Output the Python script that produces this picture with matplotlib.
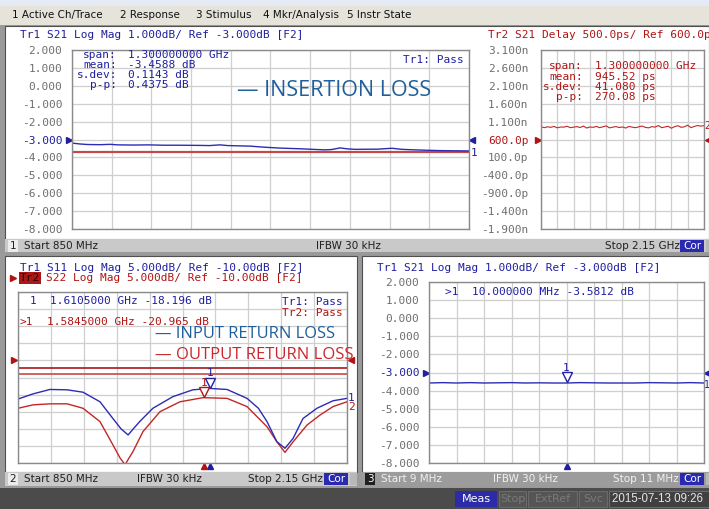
import numpy as np
import matplotlib.pyplot as plt
from matplotlib.patches import Rectangle
from matplotlib import transforms

W, H = 709, 509

# ---------------- data ----------------
# channel 1 / Tr1 : S21 insertion loss, 850 MHz .. 2.15 GHz (dB)
il_freq = [850, 876, 900, 942, 975, 1000, 1050, 1100, 1150, 1200, 1269, 1300,
           1335, 1360, 1433, 1480, 1531, 1600, 1678, 1700, 1728, 1750, 1777,
           1850, 1898, 1930, 1973, 2010, 2055, 2100, 2150]
il_db = [-3.20, -3.25, -3.28, -3.29, -3.27, -3.30, -3.31, -3.30, -3.32, -3.32,
         -3.33, -3.34, -3.30, -3.34, -3.37, -3.43, -3.48, -3.52, -3.58, -3.56,
         -3.47, -3.52, -3.55, -3.54, -3.49, -3.55, -3.58, -3.60, -3.62, -3.63,
         -3.64]
il_limit = -3.72

# channel 1 / Tr2 : S21 group delay (ps)
delay_freq = [850, 876, 902, 928, 954, 980, 1006, 1032, 1058, 1084, 1110, 1136,
              1162, 1188, 1214, 1240, 1266, 1292, 1318, 1344, 1370, 1396, 1422,
              1448, 1474, 1500, 1526, 1552, 1578, 1604, 1630, 1656, 1682, 1708,
              1734, 1760, 1786, 1812, 1838, 1864, 1890, 1916, 1942, 1968, 1994,
              2020, 2046, 2072, 2098, 2124, 2150]
delay_ps = [960, 930, 955, 940, 965, 925, 950, 945, 970, 930, 945, 960, 935,
            975, 920, 950, 940, 965, 930, 955, 980, 925, 945, 960, 935, 950,
            920, 965, 945, 930, 955, 975, 940, 925, 960, 945, 990, 930, 950,
            970, 915, 960, 985, 940, 955, 1000, 930, 965, 990, 975, 985]

# channel 2 : S11 / S22 return loss (dB)
s11_freq = [850, 909, 976, 1044, 1107, 1174, 1225, 1257, 1285, 1308, 1332,
            1383, 1462, 1541, 1610, 1676, 1755, 1800, 1834, 1873, 1905, 1937,
            1976, 2031, 2095, 2150]
s11_db = [-21.3, -19.8, -18.5, -18.6, -19.3, -22.1, -27.0, -30.0, -31.8, -29.8,
          -27.8, -24.0, -20.6, -18.6, -18.2, -18.5, -21.1, -24.0, -27.9, -33.8,
          -35.7, -32.8, -27.0, -24.0, -21.8, -21.1]
s22_freq = [850, 909, 976, 1044, 1107, 1174, 1225, 1253, 1273, 1285, 1304,
            1344, 1411, 1490, 1581, 1676, 1755, 1834, 1873, 1905, 1937, 1992,
            2043, 2095, 2150]
s22_db = [-24.0, -23.0, -22.7, -22.7, -24.0, -27.9, -34.7, -38.5, -40.5, -39.0,
          -36.7, -30.8, -25.0, -22.1, -20.9, -21.1, -23.5, -29.4, -33.8, -36.9,
          -33.8, -28.9, -26.0, -23.5, -22.1]
rl_limits = [-12.2, -14.0]
s11_mkr = (1610.5, -18.196)
s22_mkr = (1584.5, -20.965)

# channel 3 : S21 at 9 .. 11 MHz (dB)
lf_freq = [9.0, 9.1, 9.2, 9.3, 9.4, 9.5, 9.6, 9.7, 9.8, 9.9, 10.0, 10.1, 10.2,
           10.3, 10.4, 10.5, 10.6, 10.7, 10.8, 10.9, 11.0]
lf_db = [-3.58, -3.56, -3.58, -3.56, -3.58, -3.57, -3.56, -3.58, -3.57, -3.58,
         -3.58, -3.56, -3.57, -3.58, -3.58, -3.58, -3.56, -3.57, -3.58, -3.56,
         -3.58]
lf_mkr = (10.0, -3.5812)

logmag_ticks = [2, 1, 0, -1, -2, -3, -4, -5, -6, -7, -8]
delay_ticks = [3.1, 2.6, 2.1, 1.6, 1.1, 0.6, 0.1, -0.4, -0.9, -1.4, -1.9]
delay_labels = ['3.100n', '2.600n', '2.100n', '1.600n', '1.100n', '600.0p',
                '100.0p', '-400.0p', '-900.0p', '-1.400n', '-1.900n']

BLUE = '#1f1fa0'
TBLUE = '#2c2cb4'
RED = '#b01414'
TRED = '#c02828'
GRAY = '#6e6e6e'
MONO = 'DejaVu Sans Mono'
UI = 'DejaVu Sans'

fig = plt.figure(figsize=(W / 100, H / 100), dpi=100)

bg = fig.add_axes([0, 0, 1, 1])
bg.set_xlim(0, W)
bg.set_ylim(H, 0)
bg.axis('off')


def box(x0, y0, x1, y1, fc, ec='none', lw=0):
    bg.add_patch(Rectangle((x0, y0), x1 - x0, y1 - y0, fc=fc, ec=ec, lw=lw))


def txt(x, y, s, **kw):
    kw.setdefault('va', 'center')
    kw.setdefault('family', MONO)
    kw.setdefault('fontsize', 8)
    return fig.text(x / W, 1 - y / H, s, **kw)


def panel(x0, y0, x1, y1):
    return fig.add_axes([x0 / W, 1 - y1 / H, (x1 - x0) / W, (y1 - y0) / H])


def style(ax, xlim, ylim, nx=10):
    ax.set_xlim(*xlim)
    ax.set_ylim(*ylim)
    ax.set_xticks(np.linspace(xlim[0], xlim[1], nx + 1))
    ax.set_yticks(np.linspace(ylim[0], ylim[1], 11))
    ax.tick_params(length=0, labelbottom=False, labelleft=False)
    ax.grid(True, color='#cfcfcf', lw=0.9)
    ax.set_axisbelow(True)
    for sp in ax.spines.values():
        sp.set_color('#8a8a8a')
        sp.set_linewidth(1.0)


def ylabels(ax, ticks, labels, pad, ref_idx, ref_color):
    ax.set_yticks(ticks, labels=labels)
    ax.tick_params(labelleft=True, pad=pad, labelsize=8, labelcolor=GRAY)
    for lab in ax.get_yticklabels():
        lab.set_family(MONO)
    ax.get_yticklabels()[ref_idx].set_color(ref_color)


def stim_marker(ax, f, c):
    down = transforms.offset_copy(ax.get_xaxis_transform(), fig=fig, y=-2.5, units='points')
    ax.plot([f], [0], marker='^', ms=5, color=c, transform=down, clip_on=False)


def data_marker(ax, f, v, c):
    up = transforms.offset_copy(ax.transData, fig=fig, y=4, units='points')
    ax.plot([f], [v], marker='v', ms=7, mfc='white', mec=c, mew=1.0,
            transform=up, clip_on=False)
    up2 = transforms.offset_copy(ax.transData, fig=fig, y=11, units='points')
    ax.text(f, v, '1', color=c, fontsize=8, family=MONO, ha='center',
            va='center', transform=up2)


# ---------------- window chrome ----------------
box(0, 0, W, 6, '#e4ebf5')
box(0, 6, W, 25, '#e6e3da')
box(0, 25, W, H, '#9a9a9a')
box(5, 26, W, 239, 'white', ec='#505050', lw=0.8)
box(5, 239, W, 252, '#c9c9c9')
box(5, 256, 357, 472, 'white', ec='#505050', lw=0.8)
box(5, 472, 357, 486, '#c9c9c9')
box(362, 256, W, 472, 'white', ec='#505050', lw=0.8)
box(362, 472, W, 486, '#9c9c9c')
box(0, 488, W, H, '#4b4b4b')

for x, s in [(12, '1 Active Ch/Trace'), (120, '2 Response'),
             (196, '3 Stimulus'), (263, '4 Mkr/Analysis'), (347, '5 Instr State')]:
    txt(x, 15, s, family=UI, fontsize=7.5, color='#111111')


# status bars
def status(y, x0, x1, num, start, ifbw_x, stop_x, stop, dark=False):
    fc = '#202020' if dark else '#ececec'
    tc = 'white' if dark else '#202020'
    box(x0 + 3, y - 6, x0 + 13, y + 6, fc)
    txt(x0 + 8, y, num, family=UI, fontsize=7.5, color=tc, ha='center')
    col = '#f2f2f2' if dark else '#202020'
    txt(x0 + 19, y, start, family=UI, fontsize=7.5, color=col)
    txt(ifbw_x, y, 'IFBW 30 kHz', family=UI, fontsize=7.5, color=col)
    txt(stop_x, y, stop, family=UI, fontsize=7.5, color=col)
    box(x1 - 33, y - 6, x1 - 9, y + 6, '#2a2ab0')
    txt(x1 - 21, y, 'Cor', family=UI, fontsize=7.5, color='white', ha='center')
    box(x1 - 7, y - 6, x1, y + 6, '#b8b8b8')


status(246, 5, 713, '1', 'Start 850 MHz', 316, 605, 'Stop 2.15 GHz')
status(479, 5, 357, '2', 'Start 850 MHz', 137, 248, 'Stop 2.15 GHz')
status(479, 362, 713, '3', 'Start 9 MHz', 493, 613, 'Stop 11 MHz', dark=True)

# bottom bar
box(455, 491, 497, 507, '#2c2ca8')
txt(476, 499, 'Meas', family=UI, fontsize=8, color='white', ha='center')
for x0, x1, s in [(499, 526, 'Stop'), (528, 577, 'ExtRef'), (579, 607, 'Svc')]:
    box(x0, 491, x1, 507, '#555555', ec='#6a6a6a', lw=0.8)
    txt((x0 + x1) / 2, 499, s, family=UI, fontsize=8, color='#7a7a7a', ha='center')
box(609, 491, W, 507, '#404040', ec='#6a6a6a', lw=0.8)
txt(612, 499, '2015-07-13 09:26', family='Liberation Sans', fontsize=8.3, color='#e6e6e6')

# ---------------- channel 1 : insertion loss ----------------
ax1 = panel(72, 50, 469, 229)
style(ax1, (850, 2150), (-8, 2))
ylabels(ax1, logmag_ticks, [f'{v:.3f}' for v in logmag_ticks], 7, 5, BLUE)
ax1.axhline(il_limit, color='#c44a4a', lw=1.6)
ax1.plot(il_freq, il_db, color=TBLUE, lw=1.0)
yx = ax1.get_yaxis_transform()
ax1.plot([-0.008], [-3], marker='>', color=BLUE, ms=5, transform=yx, clip_on=False)
ax1.plot([1.008], [-3], marker='<', color=BLUE, ms=5, transform=yx, clip_on=False)
ax1.text(1.004, il_db[-1] - 0.1, '1', transform=yx, color=BLUE, fontsize=8,
         family=MONO, va='center', ha='left')

txt(20, 35, 'Tr1 S21 Log Mag 1.000dB/ Ref -3.000dB [F2]', color=BLUE)
for i, (lab, val) in enumerate([('span:', '1.300000000 GHz'), ('mean:', '-3.4588 dB'),
                                ('s.dev:', '0.1143 dB'), ('p-p:', '0.4375 dB')]):
    txt(117, 55 + 10 * i, lab, color=BLUE, ha='right')
    txt(128, 55 + 10 * i, val, color=BLUE)
txt(403, 60, 'Tr1: Pass', color=BLUE)

# ---------------- channel 1 : group delay ----------------
ax2 = panel(541, 50, 704, 229)
style(ax2, (850, 2150), (-1.9, 3.1))
ylabels(ax2, delay_ticks, delay_labels, 9, 5, RED)
ax2.plot(delay_freq, np.array(delay_ps) / 1000, color=TRED, lw=0.8)
yx2 = ax2.get_yaxis_transform()
ax2.plot([-0.02], [0.6], marker='>', color=RED, ms=5, transform=yx2, clip_on=False)
ax2.plot([1.025], [0.6], marker='<', color=RED, ms=5, transform=yx2, clip_on=False)
ax2.text(1.0, delay_ps[-1] / 1000, '2', transform=yx2, color=RED, fontsize=7,
         family=MONO, va='center')

txt(488, 35, 'Tr2 S21 Delay 500.0ps/ Ref 600.0ps [F2]', color=RED)
for i, (lab, val) in enumerate([('span:', '1.300000000 GHz'), ('mean:', '945.52 ps'),
                                ('s.dev:', '41.080 ps'), ('p-p:', '270.08 ps')]):
    txt(583, 66 + 10.5 * i, lab, color=RED, ha='right')
    txt(595, 66 + 10.5 * i, val, color=RED)

# ---------------- channel 2 : return loss ----------------
ax3 = panel(18, 292, 347, 463)
style(ax3, (850, 2150), (-40, 10))
for lim, c in zip(rl_limits, ['#a81818', '#c84848']):
    ax3.axhline(lim, color=c, lw=1.2)
ax3.plot(s22_freq, s22_db, color=TRED, lw=1.0)
ax3.plot(s11_freq, s11_db, color=TBLUE, lw=1.0)
yx3 = ax3.get_yaxis_transform()
ax3.plot([-0.012], [-10], marker='>', color=RED, ms=5, transform=yx3, clip_on=False)
ax3.plot([1.012], [-10], marker='<', color=RED, ms=5, transform=yx3, clip_on=False)
ax3.text(1.003, s11_db[-1], '1', transform=yx3, color=BLUE, fontsize=8, family=MONO, va='center')
ax3.text(1.003, s22_db[-1] - 1.5, '2', transform=yx3, color=RED, fontsize=8, family=MONO, va='center')

for (f, v), c in [(s11_mkr, BLUE), (s22_mkr, RED)]:
    data_marker(ax3, f, v, c)
    stim_marker(ax3, f, c)

txt(20, 268, 'Tr1 S11 Log Mag 5.000dB/ Ref -10.00dB [F2]', color=BLUE)
txt(20, 278, 'Tr2', color='#2a0000',
    bbox=dict(fc='#a81818', ec='none', pad=0.6))
txt(46, 278, 'S22 Log Mag 5.000dB/ Ref -10.00dB [F2]', color=RED)
bg.plot([13], [278], marker='>', color=RED, ms=5)
txt(30, 301, '1', color=BLUE)
txt(50, 301, '1.6105000 GHz -18.196 dB', color=BLUE)
txt(20, 322, '>1', color=RED)
txt(47, 322, '1.5845000 GHz -20.965 dB', color=RED)
txt(282, 302, 'Tr1: Pass', color=BLUE)
txt(282, 313, 'Tr2: Pass', color=RED)

# ---------------- channel 3 : low frequency S21 ----------------
ax4 = panel(429, 282, 704, 463)
style(ax4, (9, 11), (-8, 2))
ylabels(ax4, logmag_ticks, [f'{v:.3f}' for v in logmag_ticks], 7, 5, BLUE)
ax4.plot(lf_freq, lf_db, color=TBLUE, lw=1.0)
yx4 = ax4.get_yaxis_transform()
ax4.plot([-0.012], [-3], marker='>', color=BLUE, ms=5, transform=yx4, clip_on=False)
ax4.plot([1.012], [-3], marker='<', color=BLUE, ms=5, transform=yx4, clip_on=False)
ax4.text(1.0, lf_db[-1] - 0.1, '1', transform=yx4, color=BLUE, fontsize=7, family=MONO, va='center')
data_marker(ax4, lf_mkr[0], lf_mkr[1], BLUE)
stim_marker(ax4, lf_mkr[0], BLUE)

txt(377, 268, 'Tr1 S21 Log Mag 1.000dB/ Ref -3.000dB [F2]', color=BLUE)
txt(445, 292, '>1  10.000000 MHz -3.5812 dB', color=BLUE)


# ---------------- overlay labels ----------------
def fit(x0, x1, y, s, color):
    t = txt(x0, y, s, family='Open Sans', fontsize=14, color=color)
    fig.canvas.draw()
    w = t.get_window_extent().width
    t.set_fontsize(14 * (x1 - x0) / w)


fit(237, 432, 90, '\u2014 INSERTION LOSS', '#1f5f9c')
fit(155, 336, 334, '\u2014 INPUT RETURN LOSS', '#1f5f9c')
fit(155, 354, 355, '\u2014 OUTPUT RETURN LOSS', '#c8282d')

fig.savefig('out.png', dpi=100)
